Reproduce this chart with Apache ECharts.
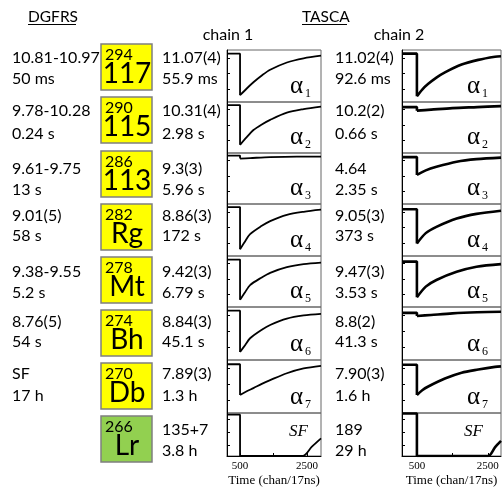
<!DOCTYPE html>
<html><head><meta charset="utf-8">
<script src="https://cdn.jsdelivr.net/npm/echarts@6/dist/echarts.min.js"></script>
<style>html,body{margin:0;padding:0;background:#fff}#c{width:502px;height:488px}</style>
</head><body><div id="c"></div>
<script>
// ---------------- DATA ----------------
const massNumbers = ['294','290','286','282','278','274','270','266'];
const symbols = ['117','115','113','Rg','Mt','Bh','Db','Lr'];
const boxColors = ['#FFFF00','#FFFF00','#FFFF00','#FFFF00','#FFFF00','#FFFF00','#FFFF00','#92D050'];
const dgfrsEnergy = ['10.81-10.97','9.78-10.28','9.61-9.75','9.01(5)','9.38-9.55','8.76(5)','SF',''];
const dgfrsTime = ['50 ms','0.24 s','13 s','58 s','5.2 s','54 s','17 h',''];
const chain1Energy = ['11.07(4)','10.31(4)','9.3(3)','8.86(3)','9.42(3)','8.84(3)','7.89(3)','135+7'];
const chain1Time = ['55.9 ms','2.98 s','5.96 s','172 s','6.79 s','45.1 s','1.3 h','3.8 h'];
const chain2Energy = ['11.02(4)','10.2(2)','4.64','9.05(3)','9.47(3)','8.8(2)','7.90(3)','189'];
const chain2Time = ['92.6 ms','0.66 s','2.35 s','373 s','3.53 s','41.3 s','1.6 h','29 h'];
const decayLabels = ['1','2','3','4','5','6','7','SF'];
const headers = ['DGFRS','TASCA','chain 1','chain 2'];
const xTickLabels = [500, 2500];
const xTicks = [500, 1500, 2500];
const xAxisTitle = 'Time (chan/17ns)';
// traces: [channel, normalized signal amplitude]
const chain1Traces = [
  [[110,0.93],[500,0.93],[500,0.13],[700,0.26],[900,0.38],[1150,0.51],[1400,0.62],[1900,0.76],[2400,0.84],[2920,0.89]],
  [[110,0.94],[500,0.94],[500,0.16],[700,0.31],[900,0.45],[1150,0.56],[1400,0.65],[1900,0.79],[2400,0.86],[2920,0.91]],
  [[110,0.95],[500,0.95],[500,0.89],[800,0.90],[1400,0.92],[2200,0.93],[2920,0.93]],
  [[110,0.94],[500,0.94],[500,0.13],[650,0.28],[800,0.42],[1150,0.58],[1400,0.67],[1900,0.79],[2400,0.85],[2920,0.89]],
  [[110,0.93],[500,0.93],[500,0.14],[650,0.29],[800,0.43],[1150,0.58],[1400,0.67],[1900,0.78],[2400,0.84],[2920,0.87]],
  [[110,0.93],[500,0.93],[500,0.15],[650,0.28],[800,0.41],[1150,0.57],[1400,0.66],[1900,0.78],[2400,0.84],[2920,0.87]],
  [[110,0.92],[500,0.92],[500,0.34],[700,0.41],[900,0.47],[1150,0.55],[1400,0.62],[1900,0.75],[2400,0.84],[2920,0.89]],
  [[110,0.96],[500,0.96],[500,0.0],[2370,0.0],[2640,0.21],[2920,0.41]]
];
const chain2Traces = [
  [[80,0.93],[500,0.93],[500,0.11],[650,0.24],[820,0.35],[1050,0.47],[1290,0.57],[1760,0.72],[2230,0.81],[2700,0.87],[2870,0.88]],
  [[80,0.90],[500,0.90],[500,0.83],[900,0.85],[1500,0.88],[2200,0.90],[2870,0.92]],
  [[80,0.92],[500,0.92],[500,0.57],[750,0.66],[1050,0.73],[1620,0.83],[2180,0.88],[2870,0.91]],
  [[80,0.90],[500,0.90],[500,0.24],[750,0.44],[1050,0.56],[1620,0.72],[2180,0.81],[2870,0.87]],
  [[80,0.89],[500,0.89],[500,0.19],[750,0.40],[1050,0.53],[1620,0.69],[2180,0.79],[2870,0.84]],
  [[80,0.89],[500,0.89],[500,0.83],[900,0.85],[1500,0.88],[2200,0.90],[2870,0.91]],
  [[80,0.91],[500,0.91],[500,0.34],[650,0.43],[820,0.50],[1290,0.65],[1760,0.76],[2230,0.82],[2700,0.87],[2870,0.88]],
  [[80,0.99],[500,0.99],[500,0.0],[2500,0.0],[2700,0.20],[2870,0.35]]
];

// ---------------- LAYOUT ----------------
const SANS = 'Lato, "Open Sans", sans-serif';
const SERIF = '"Liberation Serif", "DejaVu Serif", serif';
const rowTops = [50,102,153,204,256,307,360,413];
const panelBottom = 459;
const colLeft = [227, 402];
const colWidth = [94, 99];
const xRange = [[110,2920],[80,2870]];
const lineW = [1.8, 2.6];
const boxTops = [44,97,151,204,257,310,363,416];
const line1Y = [58,111,169,216,272,322,374,430];
const line2Y = [79,133.5,190,236,293,342,396,451];
const textX = [12, 162, 335];

const chart = echarts.init(document.getElementById('c'));
const grids=[], xAxes=[], yAxes=[], series=[];
const traces = [chain1Traces, chain2Traces];
for (let c=0;c<2;c++) for (let i=0;i<8;i++){
  const k = grids.length;
  const top = rowTops[i], bottom = i<7 ? rowTops[i+1] : panelBottom;
  const last = i===7;
  grids.push({left: colLeft[c], top: top, width: colWidth[c], height: bottom-top, show:true, borderColor:'#666', borderWidth:1, backgroundColor:'transparent'});
  xAxes.push({gridIndex:k, type:'value', min:xRange[c][0], max:xRange[c][1],
    axisLine:{show:last, onZero:false, lineStyle:{color:'#000', width:1}},
    axisTick:{show:last, inside:true, length:3, customValues:xTicks, lineStyle:{color:'#000'}},
    axisLabel:{show:last, customValues:xTickLabels, formatter:function(v){return String(v);},
      fontFamily:SERIF, fontSize:11, color:'#000', margin:5},
    splitLine:{show:false},
    name: last ? xAxisTitle : '', nameLocation:'middle', nameGap:18,
    nameTextStyle:{fontFamily:SERIF, fontSize:13, color:'#000'}});
  yAxes.push({gridIndex:k, type:'value', min:0, max:1,
    axisLine:{show:true, lineStyle:{color:'#000', width:1}},
    axisTick:{show:true, inside:true, length:3, customValues:[0.25,0.55,0.85], lineStyle:{color:'#000'}},
    axisLabel:{show:false}, splitLine:{show:false}});
  const tr = traces[c][i];
  // pre-trigger level and step
  series.push({type:'line', xAxisIndex:k, yAxisIndex:k, data:tr.slice(0,3), showSymbol:false, symbol:'none',
    lineStyle:{color:'#000', width:lineW[c]}, silent:true, animation:false});
  // recovery after the step
  series.push({type:'line', xAxisIndex:k, yAxisIndex:k, data:tr.slice(2), showSymbol:false, symbol:'none',
    smooth:0.3,
    lineStyle:{color:'#000', width:lineW[c]}, silent:true, animation:false});
}

const graphic = [];
function txt(x, y, text, o) {
  graphic.push({type:'text', x:x, y:y, silent:true, z:10,
    style:Object.assign({text:text, fill:'#000', fontSize:16, fontFamily:SANS, align:'left', verticalAlign:'middle'}, o||{})});
}
// headers
txt(28, 17, headers[0], {fontSize:15.5});
txt(302, 17, headers[1], {fontSize:15.5});
graphic.push({type:'line', shape:{x1:28,y1:24.5,x2:76,y2:24.5}, style:{stroke:'#000', lineWidth:1}});
graphic.push({type:'line', shape:{x1:302,y1:24.5,x2:347,y2:24.5}, style:{stroke:'#000', lineWidth:1}});
txt(228, 34.5, headers[2], {align:'center'});
txt(399, 34.5, headers[3], {align:'center'});

for (let i=0;i<8;i++){
  // isotope box
  graphic.push({type:'rect', shape:{x:101, y:boxTops[i], width:51, height:46},
    style:{fill:boxColors[i], stroke:'#7f7f7f', lineWidth:1.5}});
  txt(105, boxTops[i]+11, massNumbers[i], {fontSize:16});
  txt(127, boxTops[i]+30, symbols[i], {fontSize:28, align:'center'});
  // text columns
  txt(textX[0], line1Y[i], dgfrsEnergy[i]);
  txt(textX[0], line2Y[i], dgfrsTime[i]);
  txt(textX[1], line1Y[i], chain1Energy[i]);
  txt(textX[1], line2Y[i], chain1Time[i]);
  txt(textX[2], line1Y[i], chain2Energy[i]);
  txt(textX[2], line2Y[i], chain2Time[i]);
  // decay labels inside panels
  for (let c=0;c<2;c++){
    const right = colLeft[c] + colWidth[c];
    const bottom = i<7 ? rowTops[i+1] : panelBottom;
    if (decayLabels[i] === 'SF') {
      txt(right - (c===0?13:18), rowTops[i]+19, 'SF', {fontFamily:SERIF, fontStyle:'italic', fontSize:17, align:'right'});
    } else {
      const ax = right - (c===0?18:21);
      txt(ax, bottom-15.5, 'α', {fontFamily:SERIF, fontSize:25, align:'right'});
      txt(ax+2, bottom-8.5, decayLabels[i], {fontFamily:SERIF, fontSize:12, align:'left'});
    }
  }
}

chart.setOption({
  animation:false,
  backgroundColor:'#fff',
  grid:grids, xAxis:xAxes, yAxis:yAxes, series:series, graphic:graphic
});
</script>
</body></html>
